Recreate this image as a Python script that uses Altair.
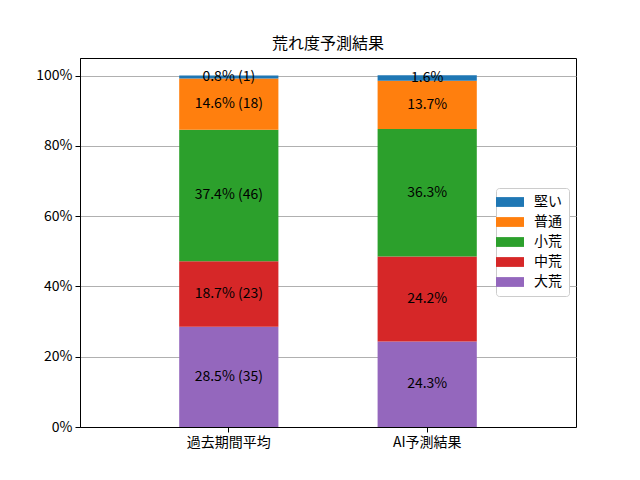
import altair as alt
import pandas as pd

categories = ["過去期間平均", "AI予測結果"]
levels = ["大荒", "中荒", "小荒", "普通", "堅い"]  # stacked bottom to top
past_pct = [28.5, 18.7, 37.4, 14.6, 0.8]
past_cnt = [35, 23, 46, 18, 1]
ai_pct = [24.3, 24.2, 36.3, 13.7, 1.6]
legend_order = ["堅い", "普通", "小荒", "中荒", "大荒"]
legend_colors = ["#1f77b4", "#ff7f0e", "#2ca02c", "#d62728", "#9467bd"]
y_ticks = [0, 20, 40, 60, 80, 100]

FONT = "Noto Sans CJK JP"

rows = []
for cat, pcts, cnts in [(categories[0], past_pct, past_cnt), (categories[1], ai_pct, None)]:
    base = 0.0
    for i, (lv, p) in enumerate(zip(levels, pcts)):
        label = f"{p}% ({cnts[i]})" if cnts else f"{p}%"
        rows.append(dict(cat=cat, level=lv, y0=base, y1=base + p, mid=base + p / 2, label=label))
        base += p
df = pd.DataFrame(rows)

x = alt.X("cat:N", sort=categories,
          scale=alt.Scale(paddingInner=0.5, paddingOuter=0.5),
          axis=alt.Axis(title=None, labelAngle=0, grid=False))

base = alt.Chart(df)

bars = base.mark_bar().encode(
    x=x,
    y=alt.Y("y0:Q", scale=alt.Scale(domain=[0, 105], nice=False, zero=True),
            axis=alt.Axis(title=None, values=y_ticks, labelExpr="datum.value + '%'",
                          grid=True, gridColor="#b0b0b0", gridWidth=1)),
    y2="y1:Q",
    color=alt.Color("level:N",
                    scale=alt.Scale(domain=legend_order, range=legend_colors),
                    legend=alt.Legend(
                        title=None, orient="none", legendX=416, legendY=130,
                        symbolType="M-2,-0.7L2,-0.7L2,0.7L-2,0.7Z",
                        symbolSize=196, symbolStrokeWidth=0,
                        labelFont=FONT, labelFontSize=14, labelColor="black",
                        labelOffset=17, rowPadding=6,
                        padding=7, fillColor="white", strokeColor="#cccccc",
                        cornerRadius=3)),
)

texts = base.mark_text(font=FONT, fontSize=14, color="black", baseline="middle").encode(
    x=x,
    y=alt.Y("mid:Q"),
    text="label:N",
)

chart = (bars + texts).properties(
    width=496, height=369,
    title=alt.TitleParams("荒れ度予測結果", font=FONT, fontSize=16, fontWeight="normal",
                          color="black", offset=6),
    autosize=alt.AutoSizeParams(type="none"),
    padding={"left": 72, "top": 50, "right": 56, "bottom": 45},
).configure_view(
    stroke="black", strokeWidth=1
).configure_axis(
    labelFont=FONT, labelFontSize=14, labelColor="black",
    domainColor="black", tickColor="black", tickSize=5, labelPadding=3
)

chart.save("out.html", embed_options={"renderer": "svg", "actions": False})
